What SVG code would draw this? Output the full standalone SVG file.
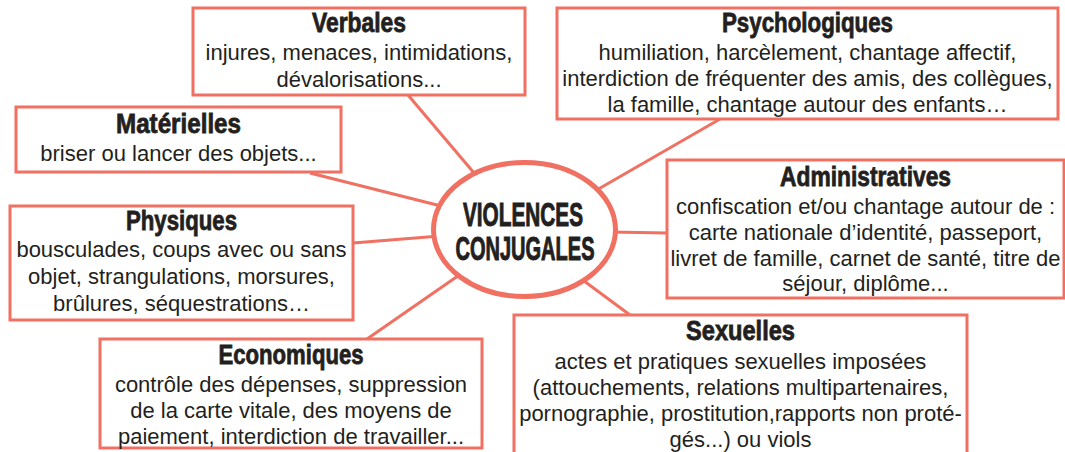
<svg xmlns="http://www.w3.org/2000/svg" width="1065" height="452" viewBox="0 0 1065 452">
<style>
.box{fill:#fff;stroke:#F07062;stroke-width:3}
.con{stroke:#F07062;stroke-width:3;fill:none}
.t{font-family:"Liberation Sans",Arial,sans-serif;font-weight:bold;font-size:28px;fill:#231F20;stroke:#231F20;stroke-width:0.8;text-anchor:middle}
.b{font-family:"Liberation Sans",Arial,sans-serif;font-size:22px;fill:#231F20;text-anchor:middle}
.c{font-family:"Liberation Sans",Arial,sans-serif;font-weight:bold;font-size:33px;fill:#231F20;stroke:#231F20;stroke-width:1;text-anchor:middle}
</style>
<rect width="1065" height="452" fill="#fff"/>
<g id="connectors">
<line class="con" x1="408" y1="95" x2="480" y2="180"/>
<line class="con" x1="310" y1="173" x2="445" y2="207"/>
<line class="con" x1="353" y1="243" x2="440" y2="236"/>
<line class="con" x1="367" y1="339" x2="465" y2="271"/>
<line class="con" x1="630" y1="315" x2="580" y2="278"/>
<line class="con" x1="667" y1="233" x2="610" y2="232"/>
<line class="con" x1="720" y1="119" x2="595" y2="191"/>
</g>
<g id="center">
<ellipse cx="524.5" cy="229.5" rx="91" ry="67" fill="#fff" stroke="#F07062" stroke-width="5"/>
<text class="c" x="523" y="226" textLength="120" lengthAdjust="spacingAndGlyphs">VIOLENCES</text>
<text class="c" x="525" y="260" textLength="139" lengthAdjust="spacingAndGlyphs">CONJUGALES</text>
</g>
<g id="verbales">
<rect class="box" x="193" y="8" width="332" height="87"/>
<text class="t" x="359" y="32" textLength="94" lengthAdjust="spacingAndGlyphs">Verbales</text>
<text class="b" x="359" y="60">injures, menaces, intimidations,</text>
<text class="b" x="359" y="87">dévalorisations...</text>
</g>
<g id="psychologiques">
<rect class="box" x="557" y="8" width="501" height="111"/>
<text class="t" x="807.5" y="32" textLength="171" lengthAdjust="spacingAndGlyphs">Psychologiques</text>
<text class="b" x="807.5" y="60">humiliation, harcèlement, chantage affectif,</text>
<text class="b" x="807.5" y="86">interdiction de fréquenter des amis, des collègues,</text>
<text class="b" x="807.5" y="112">la famille, chantage autour des enfants…</text>
</g>
<g id="materielles">
<rect class="box" x="16" y="107" width="325" height="65"/>
<text class="t" x="178.5" y="133" textLength="125" lengthAdjust="spacingAndGlyphs">Matérielles</text>
<text class="b" x="178.5" y="161">briser ou lancer des objets...</text>
</g>
<g id="physiques">
<rect class="box" x="10" y="206" width="343" height="114"/>
<text class="t" x="181.5" y="230" textLength="111" lengthAdjust="spacingAndGlyphs">Physiques</text>
<text class="b" x="181.5" y="257">bousculades, coups avec ou sans</text>
<text class="b" x="181.5" y="284">objet, strangulations, morsures,</text>
<text class="b" x="181.5" y="311">brûlures, séquestrations…</text>
</g>
<g id="administratives">
<rect class="box" x="667" y="160" width="397" height="138"/>
<text class="t" x="865.5" y="186" textLength="171" lengthAdjust="spacingAndGlyphs">Administratives</text>
<text class="b" x="865.5" y="214">confiscation et/ou chantage autour de :</text>
<text class="b" x="865.5" y="240">carte nationale d’identité, passeport,</text>
<text class="b" x="865.5" y="266">livret de famille, carnet de santé, titre de</text>
<text class="b" x="865.5" y="291">séjour, diplôme...</text>
</g>
<g id="economiques">
<rect class="box" x="100" y="339" width="382" height="109"/>
<text class="t" x="291" y="364" textLength="145" lengthAdjust="spacingAndGlyphs">Economiques</text>
<text class="b" x="291" y="392">contrôle des dépenses, suppression</text>
<text class="b" x="291" y="418">de la carte vitale, des moyens de</text>
<text class="b" x="291" y="444">paiement, interdiction de travailler...</text>
</g>
<g id="sexuelles">
<rect class="box" x="514" y="315" width="453" height="150"/>
<text class="t" x="740.5" y="340" textLength="109" lengthAdjust="spacingAndGlyphs">Sexuelles</text>
<text class="b" x="740.5" y="369">actes et pratiques sexuelles imposées</text>
<text class="b" x="740.5" y="395">(attouchements, relations multipartenaires,</text>
<text class="b" x="740.5" y="421">pornographie, prostitution,rapports non proté-</text>
<text class="b" x="740.5" y="447">gés...) ou viols</text>
</g>
</svg>
